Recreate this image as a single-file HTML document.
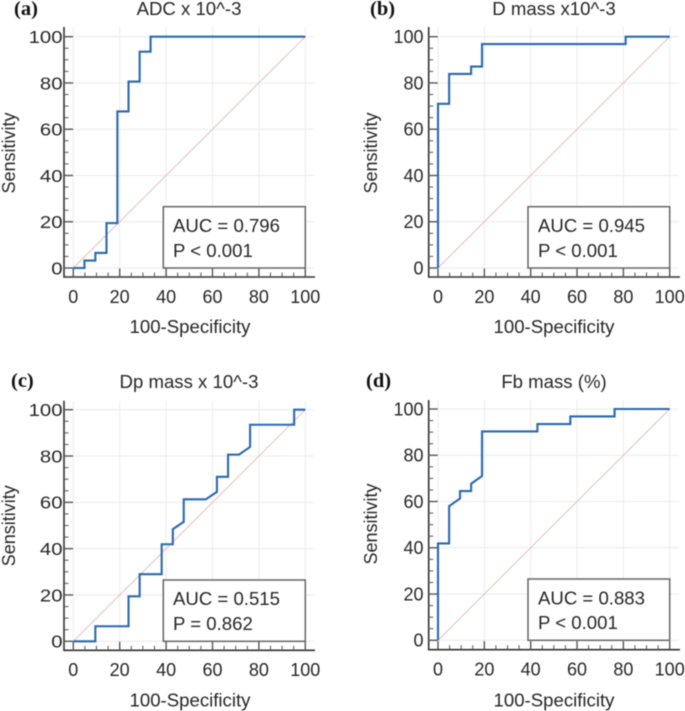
<!DOCTYPE html>
<html lang="en">
<head>
<meta charset="utf-8">
<title>ROC curves</title>
<style>
html,body{margin:0;padding:0;background:#fff;width:685px;height:711px;overflow:hidden}
svg{display:block;filter:blur(0.45px)}
text{font-family:"Liberation Sans",sans-serif;font-size:18px;fill:#262626}
.big{font-size:18.6px}
.lbl{font-family:"Liberation Serif",serif;font-weight:bold;font-size:20.5px;fill:#111}
</style>
</head>
<body>
<svg id="chart" xmlns="http://www.w3.org/2000/svg" width="685" height="711" viewBox="0 0 685 711"></svg>
<script>
// Chart data
const tickLabels = [0, 20, 40, 60, 80, 100];
const minorStep = 5;
const diagonal = [0, 100];

const titles = ["ADC x 10^-3", "D mass x10^-3", "Dp mass x 10^-3", "Fb mass (%)"];
const panelLetters = ["(a)", "(b)", "(c)", "(d)"];
const aucLabels = ["AUC = 0.796", "AUC = 0.945", "AUC = 0.515", "AUC = 0.883"];
const pLabels = ["P < 0.001", "P < 0.001", "P = 0.862", "P < 0.001"];

const fprA = [0, 4.8, 4.8, 9.5, 9.5, 14.3, 14.3, 19, 19, 23.8, 23.8, 28.6, 28.6, 33.3, 33.3, 100];
const tprA = [0, 0, 3.2, 3.2, 6.5, 6.5, 19.4, 19.4, 67.7, 67.7, 80.6, 80.6, 93.5, 93.5, 100, 100];

const fprB = [0, 0, 4.8, 4.8, 14.3, 14.3, 19, 19, 81, 81, 100];
const tprB = [0, 71, 71, 83.9, 83.9, 87.1, 87.1, 96.8, 96.8, 100, 100];

const fprC = [0, 9.5, 9.5, 23.8, 23.8, 28.6, 28.6, 38.1, 38.1, 42.9, 42.9, 47.6, 47.6, 57.1, 61.9, 61.9, 66.7, 66.7, 71.4, 76.2, 76.2, 95.2, 95.2, 100];
const tprC = [0, 0, 6.5, 6.5, 19.4, 19.4, 29, 29, 41.9, 41.9, 48.4, 51.6, 61.3, 61.3, 64.5, 71, 71, 80.6, 80.6, 83.9, 93.5, 93.5, 100, 100];

const fprD = [0, 0, 4.8, 4.8, 9.5, 9.5, 14.3, 14.3, 19, 19, 42.9, 42.9, 57.1, 57.1, 76.2, 76.2, 100];
const tprD = [0, 41.9, 41.9, 58, 61.3, 64.5, 64.5, 67.7, 71, 90.3, 90.3, 93.5, 93.5, 96.8, 96.8, 100, 100];

const fprSeries = [fprA, fprB, fprC, fprD];
const tprSeries = [tprA, tprB, tprC, tprD];

// Panel geometry (layout only)
const layouts = [
  {x0:73.3, x100:305.3, y0:268, y100:36.7, left:64, bottom:277, top:27, right:315, tickEnd:62.5, stretch:1.13, sensX:15, sensY:153, titleX:189, titleY:15, letterX:14, letterY:15, xTickY:303, xTitleX:190, xTitleY:333, boxL:163.3, boxT:206.7, textX:173, aucY:232, pY:257},
  {x0:438, x100:669.7, y0:268, y100:36.7, left:428.7, bottom:277, top:27, right:680, tickEnd:423.5, stretch:1, sensX:377, sensY:153, titleX:554, titleY:15, letterX:370, letterY:15, xTickY:303, xTitleX:554, xTitleY:333, boxL:528, boxT:206.7, textX:538, aucY:232, pY:257},
  {x0:73.3, x100:305.3, y0:641.3, y100:409.7, left:64, bottom:650.3, top:400.7, right:315, tickEnd:62.5, stretch:1.13, sensX:15, sensY:525.7, titleX:189, titleY:388, letterX:11, letterY:387, xTickY:676, xTitleX:190, xTitleY:706.5, boxL:163.3, boxT:580, textX:173, aucY:605, pY:630},
  {x0:438, x100:669.7, y0:640.3, y100:409, left:428.7, bottom:649.7, top:400, right:680, tickEnd:423.5, stretch:1, sensX:377, sensY:524, titleX:554, titleY:388, letterX:366, letterY:387, xTickY:675.5, xTitleX:554, xTitleY:706.5, boxL:528, boxT:579, textX:538, aucY:604.5, pY:629}
];

const NS = "http://www.w3.org/2000/svg";
const svg = document.getElementById("chart");

function make(parent, tag, attrs, txt) {
  const el = document.createElementNS(NS, tag);
  for (const k in attrs) el.setAttribute(k, attrs[k]);
  if (txt !== undefined) el.textContent = txt;
  parent.appendChild(el);
  return el;
}

layouts.forEach(function (L, i) {
  const xScale = function (v) { return L.x0 + (L.x100 - L.x0) * v / 100; };
  const yScale = function (v) { return L.y0 + (L.y100 - L.y0) * v / 100; };

  const g = make(svg, "g", {});
  
  

  // grid
  tickLabels.forEach(function (t) {
    const gx = make(g, "line", {x1:xScale(t), x2:xScale(t), y1:L.top, y2:L.bottom, stroke:"#ebebeb", "stroke-width":1});
    
    
    const gy = make(g, "line", {x1:L.left, x2:L.right - 1, y1:yScale(t), y2:yScale(t), stroke:"#ebebeb", "stroke-width":1});
    
    
  });

  // reference diagonal
  const diag = make(g, "line", {x1:xScale(diagonal[0]), y1:yScale(diagonal[0]), x2:xScale(diagonal[1]), y2:yScale(diagonal[1]), stroke:"#e9bcbc", "stroke-width":1});
  
  

  // axes
  const yAxis = make(g, "line", {x1:L.left, x2:L.left, y1:L.top, y2:L.bottom + 0.8, stroke:"#333", "stroke-width":1.6});
  
  
  const xAxis = make(g, "line", {x1:L.left, x2:L.right, y1:L.bottom, y2:L.bottom, stroke:"#333", "stroke-width":1.6});
  
  

  // minor ticks and major ticks
  for (let v = 0; v <= 100; v += minorStep) {
    const major = v % 20 === 0;
    const tx = make(g, "line", {x1:xScale(v), x2:xScale(v), y1:L.bottom, y2:L.bottom - (major ? 8.5 : 4.5), stroke:"#555", "stroke-width":major ? 1.4 : 1});
    
    
    const ty = make(g, "line", {x1:L.left, x2:L.left + (major ? 9 : 4.5), y1:yScale(v), y2:yScale(v), stroke:"#555", "stroke-width":major ? 1.4 : 1});
    
    
  }

  // tick labels
  tickLabels.forEach(function (t) {
    const xl = make(g, "text", {x:xScale(t), y:L.xTickY, "text-anchor":"middle"}, String(t));
    
    
    const yl = make(g, "text", {transform:"translate(" + L.tickEnd + " " + (yScale(t) + 6.3) + ") scale(" + L.stretch + " 1)", "text-anchor":"end"}, String(t));
    
    
  });

  // titles
  const title = make(g, "text", {x:L.titleX, y:L.titleY, "text-anchor":"middle", "class":"big"}, titles[i]);
  
  
  const letter = make(g, "text", {x:L.letterX, y:L.letterY, "class":"lbl"}, panelLetters[i]);
  
  
  const xTitle = make(g, "text", {x:L.xTitleX, y:L.xTitleY, "text-anchor":"middle", "class":"big"}, "100-Specificity");
  
  
  const yTitle = make(g, "text", {transform:"translate(" + L.sensX + " " + L.sensY + ") rotate(-90)", "text-anchor":"middle"}, "Sensitivity");
  
  

  // annotation box
  const box = make(g, "rect", {x:L.boxL, y:L.boxT, width:xScale(100) - L.boxL, height:yScale(0) - L.boxT, fill:"#fff", stroke:"#666", "stroke-width":1.5});
  
  
  const auc = make(g, "text", {x:L.textX, y:L.aucY, "class":"big"}, aucLabels[i]);
  
  
  const pv = make(g, "text", {x:L.textX, y:L.pY, "class":"big"}, pLabels[i]);
  
  

  // ROC curve
  const fpr = fprSeries[i];
  const tpr = tprSeries[i];
  const pts = fpr.map(function (f, k) { return xScale(f).toFixed(2) + "," + yScale(tpr[k]).toFixed(2); }).join(" ");
  const curve = make(g, "polyline", {points:pts, fill:"none", stroke:"#2a69ae", "stroke-width":2.1, "stroke-linejoin":"miter"});
  
  
});
</script>
</body>
</html>
